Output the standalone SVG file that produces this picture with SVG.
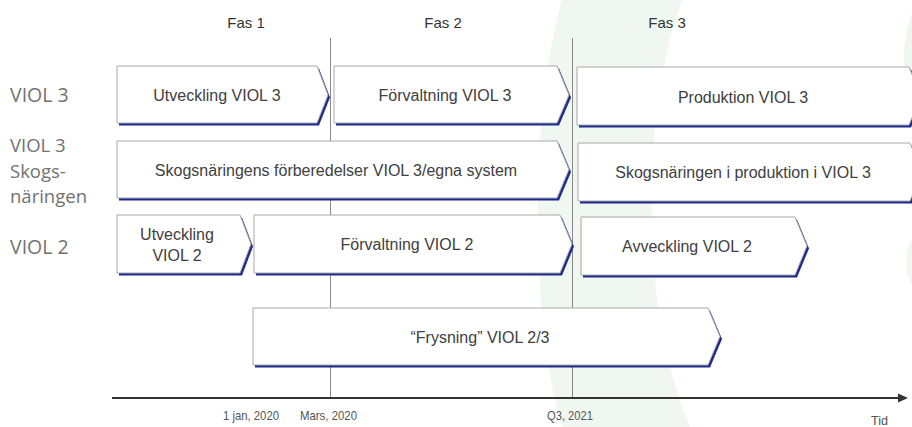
<svg xmlns="http://www.w3.org/2000/svg" width="912" height="427" viewBox="0 0 912 427">
<style>
.box{fill:#ffffff;stroke:#a8a8a8;stroke-width:1}
.sh{fill:#1f2a8f}
.bt{font-family:"Liberation Sans",Arial,sans-serif;font-size:16px;fill:#404040;text-anchor:middle}
.row{font-family:"Open Sans","Liberation Sans",sans-serif;font-size:19.5px;fill:#727272}
.rowm{font-family:"Open Sans","Liberation Sans",sans-serif;font-size:18.5px;fill:#727272}
.fas{font-family:"Liberation Sans",Arial,sans-serif;font-size:15px;fill:#333333;text-anchor:middle}
.ax{font-family:"Liberation Sans",Arial,sans-serif;font-size:13px;fill:#555555}
.grid{stroke:#8a8a8a;stroke-width:1}
</style>
<rect width="912" height="427" fill="#ffffff"/>
<g id="background">
<path d="M562,0 L682,0 C665,50 655,100 652,170 C650,260 655,340 690,427 L563,427 C545,370 538,300 538,220 C538,130 545,60 562,0 Z" fill="#f0f7f1"/>
<ellipse cx="962" cy="60" rx="58" ry="95" fill="#f0f7f1"/>
<ellipse cx="962" cy="262" rx="56" ry="50" fill="#f0f7f1"/>
</g>
<g id="timeline">
<line class="grid" x1="330.5" y1="38" x2="330.5" y2="398"/>
<line class="grid" x1="572.5" y1="38" x2="572.5" y2="398"/>
<line x1="112" y1="398" x2="899" y2="398" stroke="#333333" stroke-width="2"/>
<polygon points="898,393.5 908,398 898,402.5" fill="#333333"/>
</g>
<g id="phases">
<text class="fas" x="246" y="28">Fas 1</text>
<text class="fas" x="443" y="28">Fas 2</text>
<text class="fas" x="667" y="28">Fas 3</text>
</g>
<g id="row-labels">
<text class="row" x="10" y="102">VIOL 3</text>
<text class="rowm" x="10" y="152">VIOL 3</text>
<text class="rowm" x="10" y="177.5">Skogs-</text>
<text class="rowm" x="10" y="203">näringen</text>
<text class="row" x="10" y="254">VIOL 2</text>
</g>
<g id="utveckling-viol3">
<polygon class="sh" points="119,68.5 319,68.5 330,97.5 319,125.5 119,125.5"/>
<polygon class="box" points="117,66 317,66 328,95 317,123 117,123"/>
<text class="bt" x="217" y="101">Utveckling VIOL 3</text>
</g>
<g id="forvaltning-viol3">
<polygon class="sh" points="336,68.5 559,68.5 571,97.5 559,125.5 336,125.5"/>
<polygon class="box" points="334,66 557,66 569,95 557,123 334,123"/>
<text class="bt" x="445" y="101">Förvaltning VIOL 3</text>
</g>
<g id="produktion-viol3">
<polygon class="sh" points="579,69.5 911,69.5 923,98.5 911,127.5 579,127.5"/>
<polygon class="box" points="577,67 909,67 921,96 909,125 577,125"/>
<text class="bt" x="743" y="103">Produktion VIOL 3</text>
</g>
<g id="skogsnaringens-forberedelser">
<polygon class="sh" points="119,143.5 559,143.5 571,172 559,200.5 119,200.5"/>
<polygon class="box" points="117,141 557,141 569,169.5 557,198 117,198"/>
<text class="bt" x="336" y="176">Skogsnäringens förberedelser VIOL 3/egna system</text>
</g>
<g id="skogsnaringen-produktion">
<polygon class="sh" points="580,145.5 912,145.5 924,174.5 912,203.5 580,203.5"/>
<polygon class="box" points="578,143 910,143 922,172 910,201 578,201"/>
<text class="bt" x="743" y="178">Skogsnäringen i produktion i VIOL 3</text>
</g>
<g id="utveckling-viol2">
<polygon class="sh" points="119,217.5 242,217.5 253,246.5 242,275.5 119,275.5"/>
<polygon class="box" points="117,215 240,215 251,244 240,273 117,273"/>
<text class="bt" x="177" y="240">Utveckling</text>
<text class="bt" x="177" y="261">VIOL 2</text>
</g>
<g id="forvaltning-viol2">
<polygon class="sh" points="256,217.5 562,217.5 574,246.5 562,275.5 256,275.5"/>
<polygon class="box" points="254,215 560,215 572,244 560,273 254,273"/>
<text class="bt" x="407" y="250">Förvaltning VIOL 2</text>
</g>
<g id="avveckling-viol2">
<polygon class="sh" points="583,219.5 797,219.5 809,248.5 797,277.5 583,277.5"/>
<polygon class="box" points="581,217 795,217 807,246 795,275 581,275"/>
<text class="bt" x="687" y="252">Avveckling VIOL 2</text>
</g>
<g id="frysning">
<polygon class="sh" points="255,310.5 710,310.5 722,339 710,367.5 255,367.5"/>
<polygon class="box" points="253,308 708,308 720,336.5 708,365 253,365"/>
<text class="bt" x="480" y="343">“Frysning” VIOL 2/3</text>
</g>
<g id="axis-labels">
<text class="ax" x="223" y="420" textLength="56" lengthAdjust="spacingAndGlyphs">1 jan, 2020</text>
<text class="ax" x="300" y="420" textLength="57" lengthAdjust="spacingAndGlyphs">Mars, 2020</text>
<text class="ax" x="547" y="420" textLength="46" lengthAdjust="spacingAndGlyphs">Q3, 2021</text>
<text class="ax" x="871" y="425" font-size="12" textLength="17" lengthAdjust="spacingAndGlyphs">Tid</text>
</g>
</svg>
